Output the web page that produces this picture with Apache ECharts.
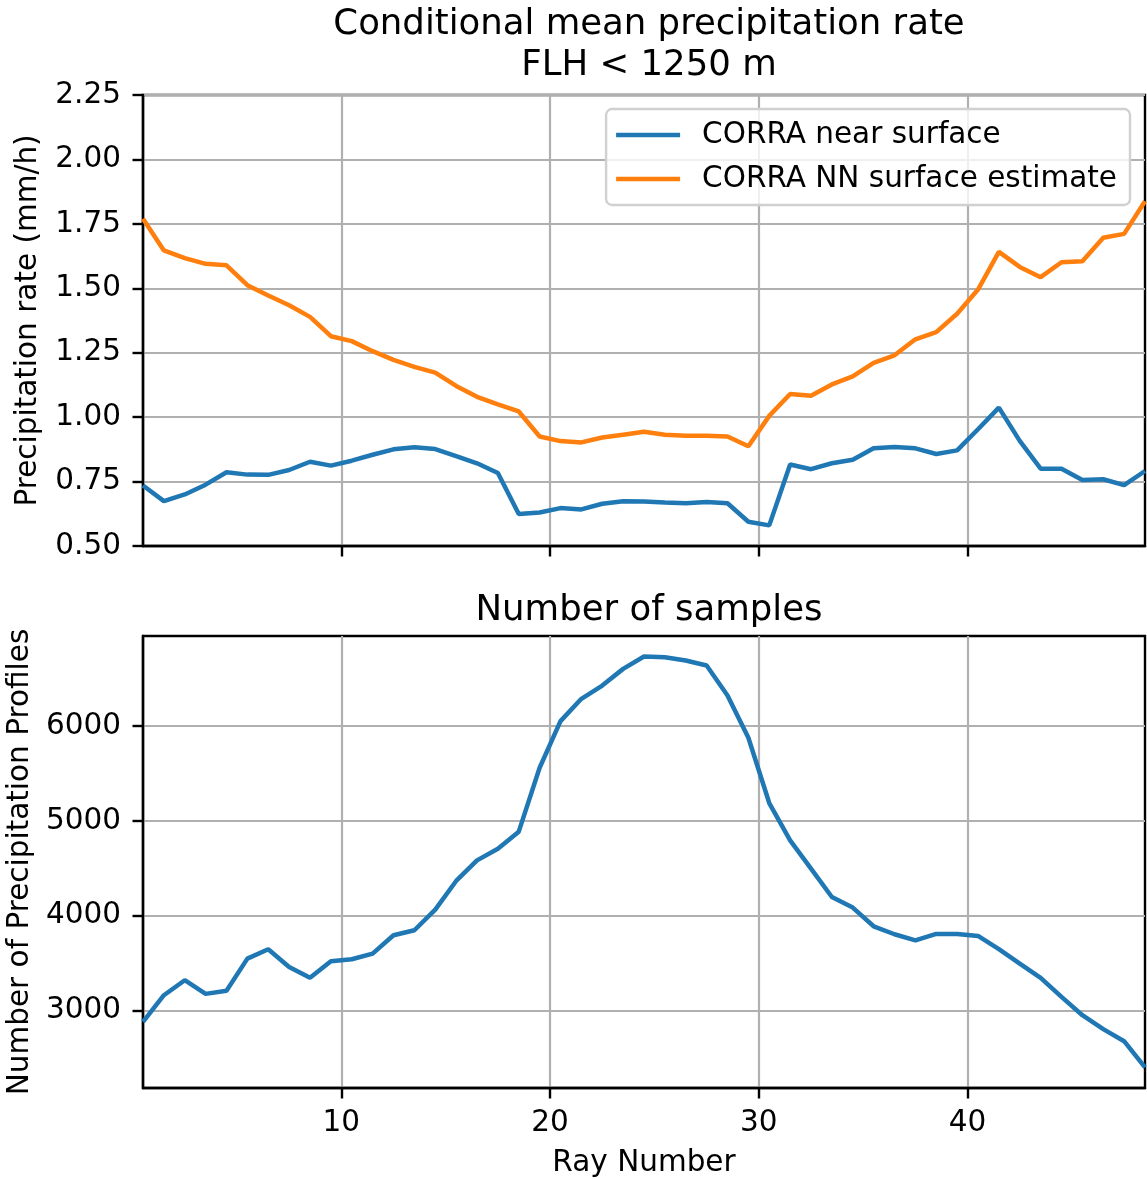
<!DOCTYPE html>
<html>
<head>
<meta charset="utf-8">
<script src="https://cdn.jsdelivr.net/npm/echarts@6/dist/echarts.min.js"></script>
<style>
html,body{margin:0;padding:0;background:#fff;}
#chart{width:1147px;height:1179px;}
</style>
</head>
<body>
<div id="chart"></div>
<script>
const rayNumbers = [0.5,1.5,2.5,3.5,4.5,5.5,6.5,7.5,8.5,9.5,10.5,11.5,12.5,13.5,14.5,15.5,16.5,17.5,18.5,19.5,20.5,21.5,22.5,23.5,24.5,25.5,26.5,27.5,28.5,29.5,30.5,31.5,32.5,33.5,34.5,35.5,36.5,37.5,38.5,39.5,40.5,41.5,42.5,43.5,44.5,45.5,46.5,47.5,48.5];
const nearSurface = [0.735,0.674,0.700,0.738,0.786,0.777,0.776,0.795,0.827,0.812,0.831,0.854,0.875,0.883,0.876,0.849,0.821,0.783,0.624,0.630,0.647,0.642,0.664,0.674,0.673,0.669,0.666,0.671,0.666,0.594,0.580,0.816,0.798,0.821,0.835,0.879,0.884,0.879,0.857,0.871,0.953,1.037,0.908,0.800,0.800,0.756,0.759,0.736,0.791];
const nnEstimate = [1.770,1.647,1.617,1.595,1.589,1.512,1.472,1.434,1.389,1.314,1.295,1.256,1.222,1.195,1.173,1.121,1.079,1.050,1.022,0.925,0.907,0.902,0.921,0.932,0.943,0.932,0.928,0.928,0.925,0.887,1.005,1.090,1.083,1.127,1.158,1.211,1.240,1.302,1.330,1.401,1.495,1.641,1.583,1.543,1.601,1.605,1.696,1.711,1.838];
const sampleCounts = [2881,3162,3320,3176,3208,3548,3647,3460,3345,3520,3541,3601,3794,3847,4065,4367,4584,4707,4887,5561,6053,6288,6428,6604,6734,6727,6692,6639,6323,5877,5189,4795,4497,4198,4086,3889,3805,3741,3808,3808,3787,3647,3496,3345,3144,2951,2804,2677,2400];
const xTicks = [10,20,30,40];
const rateTicks = [0.5,0.75,1.0,1.25,1.5,1.75,2.0,2.25];
const countTicks = [3000,4000,5000,6000];

const FONT = 'DejaVu Sans';
const GRIDC = '#b0b0b0';
const FS = 29.5;
const TFS = 35.5;
const pairs = (xs, ys) => xs.map((x, i) => [x, ys[i]]);

const cMin = Math.min(...sampleCounts), cMax = Math.max(...sampleCounts);
const cPad = (cMax - cMin) * 0.05;

const chart = echarts.init(document.getElementById('chart'), null, {renderer: 'canvas'});

function xAxisCfg(gridIndex, showLabels) {
  return {
    type: 'value', gridIndex, min: 0.5, max: 48.5, splitNumber: 5,
    minInterval: 10, maxInterval: 10,
    name: showLabels ? 'Ray Number' : '',
    nameLocation: 'middle', nameGap: 60,
    nameTextStyle: {fontFamily: FONT, fontSize: FS, color: '#000'},
    axisLine: {show: true, onZero: false, lineStyle: {color: '#000', width: 2.4}},
    axisTick: {show: true, length: 10.5, customValues: xTicks, lineStyle: {color: '#000', width: 2.4}},
    axisLabel: {show: showLabels, customValues: xTicks,
      fontFamily: FONT, fontSize: FS, color: '#000', margin: 20},
    splitLine: {show: true, lineStyle: {color: GRIDC, width: 2.2}}
  };
}

const option = {
  animation: false,
  backgroundColor: '#fff',
  title: [
    {text: 'Conditional mean precipitation rate\nFLH < 1250 m', left: 644, top: -1, textAlign: 'center',
     textStyle: {fontFamily: FONT, fontSize: TFS, fontWeight: 'normal', color: '#000', lineHeight: 41}},
    {text: 'Number of samples', left: 644, top: 585, textAlign: 'center',
     textStyle: {fontFamily: FONT, fontSize: TFS, fontWeight: 'normal', color: '#000', lineHeight: 41}}
  ],
  legend: {
    data: ['CORRA near surface', 'CORRA NN surface estimate'],
    orient: 'vertical', right: 17, top: 109,
    icon: 'rect', itemWidth: 64, itemHeight: 4.5, itemGap: 14,
    padding: [11, 13, 11, 10],
    backgroundColor: 'rgba(255,255,255,0.8)', borderColor: '#d0d0d0', borderWidth: 2.4, borderRadius: 6,
    textStyle: {fontFamily: FONT, fontSize: FS, color: '#000', lineHeight: 30, padding: [0, 0, 0, 17]}
  },
  grid: [
    {left: 143, top: 95, width: 1002, height: 451, show: true, borderColor: '#000', borderWidth: 2.4,
     backgroundColor: 'transparent', containLabel: false, outerBoundsMode: 'none'},
    {left: 143, top: 636, width: 1002, height: 452, show: true, borderColor: '#000', borderWidth: 2.4,
     backgroundColor: 'transparent', containLabel: false, outerBoundsMode: 'none'}
  ],
  xAxis: [xAxisCfg(0, false), xAxisCfg(1, true)],
  yAxis: [
    {type: 'value', gridIndex: 0, min: 0.5, max: 2.25, interval: 0.25,
     name: 'Precipitation rate (mm/h)', nameLocation: 'middle', nameGap: 100,
     nameTextStyle: {fontFamily: FONT, fontSize: FS, color: '#000'},
     axisLine: {show: true, lineStyle: {color: '#000', width: 2.4}},
     axisTick: {show: true, length: 10.5, customValues: rateTicks, lineStyle: {color: '#000', width: 2.4}},
     axisLabel: {fontFamily: FONT, fontSize: FS, color: '#000', margin: 22, customValues: rateTicks,
       formatter: v => v.toFixed(2)},
     splitLine: {show: true, lineStyle: {color: GRIDC, width: 2.2}}},
    {type: 'value', gridIndex: 1, min: cMin - cPad, max: cMax + cPad, splitNumber: 5,
     minInterval: 1000, maxInterval: 1000,
     name: 'Number of Precipitation Profiles', nameLocation: 'middle', nameGap: 108,
     nameTextStyle: {fontFamily: FONT, fontSize: FS, color: '#000'},
     axisLine: {show: true, lineStyle: {color: '#000', width: 2.4}},
     axisTick: {show: true, length: 10.5, customValues: countTicks, lineStyle: {color: '#000', width: 2.4}},
     axisLabel: {fontFamily: FONT, fontSize: FS, color: '#000', margin: 22, customValues: countTicks,
       formatter: v => String(Math.round(v))},
     splitLine: {show: true, lineStyle: {color: GRIDC, width: 2.2}}}
  ],
  series: [
    {name: 'CORRA near surface', type: 'line', xAxisIndex: 0, yAxisIndex: 0, data: pairs(rayNumbers, nearSurface),
     symbol: 'none', color: '#1f77b4', lineStyle: {width: 4.5, color: '#1f77b4'}, z: 3},
    {name: 'CORRA NN surface estimate', type: 'line', xAxisIndex: 0, yAxisIndex: 0, data: pairs(rayNumbers, nnEstimate),
     symbol: 'none', color: '#ff7f0e', lineStyle: {width: 4.5, color: '#ff7f0e'}, z: 3},
    {name: 'samples', type: 'line', xAxisIndex: 1, yAxisIndex: 1, data: pairs(rayNumbers, sampleCounts),
     symbol: 'none', color: '#1f77b4', lineStyle: {width: 4.5, color: '#1f77b4'}, z: 3}
  ]
};
chart.setOption(option);
</script>
</body>
</html>
